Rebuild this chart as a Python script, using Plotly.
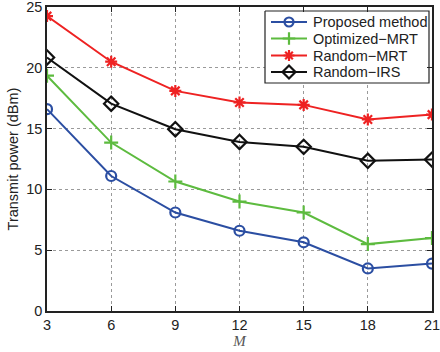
import plotly.graph_objects as go

# Number of reflecting elements M
M = [3, 6, 9, 12, 15, 18, 21]

# Transmit power (dBm) for each scheme
proposed = [16.6, 11.1, 8.1, 6.6, 5.65, 3.5, 3.9]
optimized_mrt = [19.35, 13.85, 10.65, 9.0, 8.1, 5.5, 6.0]
random_mrt = [24.25, 20.5, 18.1, 17.15, 16.95, 15.75, 16.15]
random_irs = [20.85, 17.05, 14.95, 13.9, 13.5, 12.35, 12.45]

series = [
    ("Proposed method", proposed, "#2b4ea2", "circle-open", 10),
    ("Optimized\u2212MRT", optimized_mrt, "#5dbb3f", "cross-thin-open", 10),
    ("Random\u2212MRT", random_mrt, "#ee2222", "asterisk-open", 10),
    ("Random\u2212IRS", random_irs, "#111111", "diamond-open", 11),
]

W, H = 440, 352
ML, MR, MT, MB = 47, 8, 7, 41
PW, PH = W - ML - MR, H - MT - MB


def fx(px):
    """Pixel x -> fraction of the plot area."""
    return (px - ML) / PW


def fy(py):
    """Pixel y -> fraction of the plot area (from bottom)."""
    return (H - MB - py) / PH


fig = go.Figure()
for name, vals, color, symbol, size in series:
    fig.add_trace(go.Scatter(
        x=M, y=vals, name=name, mode="lines+markers", showlegend=False,
        line=dict(color=color, width=2),
        marker=dict(symbol=symbol, size=size, color=color,
                    line=dict(color=color, width=2.2)),
    ))

# Boxed legend in the upper-right corner, drawn on an overlay axis pair
box_l, box_r, box_t, box_b = 265, 429, 11, 83
fig.add_trace(go.Scatter(
    x=[fx(box_l), fx(box_r), fx(box_r), fx(box_l), fx(box_l)],
    y=[fy(box_t), fy(box_t), fy(box_b), fy(box_b), fy(box_t)],
    mode="lines", fill="toself", fillcolor="white",
    line=dict(color="#222222", width=1.2),
    xaxis="x2", yaxis="y2", showlegend=False, hoverinfo="skip",
))
row_y = [22, 38.5, 55.5, 72]
for (name, vals, color, symbol, size), ry in zip(series, row_y):
    fig.add_trace(go.Scatter(
        x=[fx(271), fx(307)], y=[fy(ry), fy(ry)], mode="lines",
        line=dict(color=color, width=2),
        xaxis="x2", yaxis="y2", showlegend=False, hoverinfo="skip",
    ))
    fig.add_trace(go.Scatter(
        x=[fx(289)], y=[fy(ry)], mode="markers",
        marker=dict(symbol=symbol, size=size - 1, color=color,
                    line=dict(color=color, width=2.2)),
        xaxis="x2", yaxis="y2", showlegend=False, hoverinfo="skip",
    ))
    fig.add_annotation(
        x=fx(311), y=fy(ry), xref="x2", yref="y2", text=name,
        showarrow=False, xanchor="left", yanchor="middle",
        font=dict(family="Liberation Sans, Arial, sans-serif", size=14.5, color="#222222"),
    )

axis_common = dict(
    showline=True, linecolor="#222222", linewidth=1.5, mirror="ticks",
    ticks="inside", ticklen=5, tickcolor="#222222",
    showgrid=True, gridcolor="#9a9a9a", griddash="dot", gridwidth=1,
    zeroline=False, ticklabeloverflow="allow",
    tickfont=dict(family="Liberation Sans, Arial, sans-serif", size=14.5, color="#222222"),
)

fig.update_layout(
    xaxis=dict(
        range=[3, 21], tickmode="array", tickvals=M,
        title=dict(text="<i>M</i>", standoff=0,
                   font=dict(family="Liberation Serif, Times New Roman, serif", size=15, color="#555555")),
        **axis_common,
    ),
    yaxis=dict(
        range=[0, 25], tickmode="array", tickvals=[0, 5, 10, 15, 20, 25],
        title=dict(text="Transmit power (dBm)", standoff=4,
                   font=dict(family="Liberation Sans, Arial, sans-serif", size=14.5, color="#222222")),
        **axis_common,
    ),
    xaxis2=dict(overlaying="x", range=[0, 1], visible=False, fixedrange=True),
    yaxis2=dict(overlaying="y", range=[0, 1], visible=False, fixedrange=True),
    width=W, height=H,
    margin=dict(l=ML, r=MR, t=MT, b=MB, autoexpand=False),
    plot_bgcolor="white", paper_bgcolor="white",
    showlegend=False,
)

fig.write_html("out.html")
